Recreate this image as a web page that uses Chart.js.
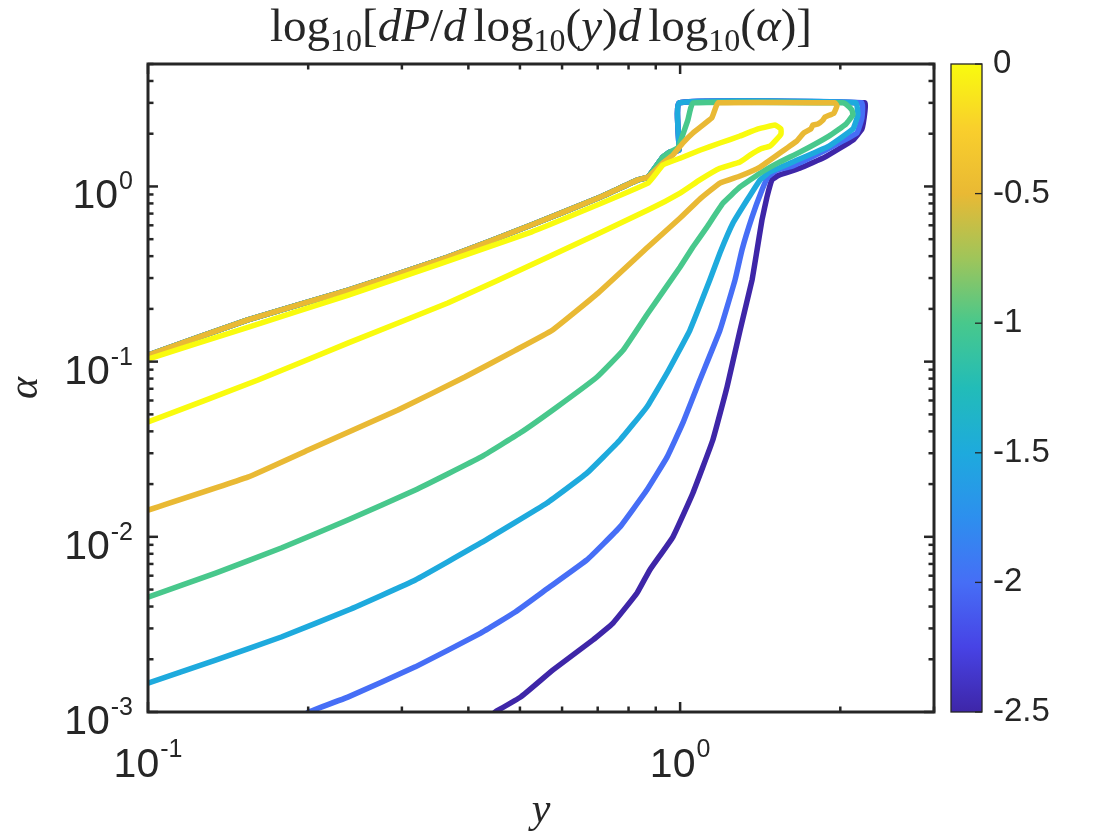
<!DOCTYPE html>
<html>
<head>
<meta charset="utf-8">
<script src="https://cdn.jsdelivr.net/npm/chart.js@4.4.1/dist/chart.umd.min.js"></script>
<style>
  html, body { margin: 0; padding: 0; background: #fff; }
</style>
</head>
<body>
<canvas id="contourChart" width="1120" height="840"></canvas>
<script>
// contour levels of log10[dP / dlog10(y) dlog10(alpha)]
const levels = [0, -0.5, -1, -1.5, -2, -2.5];
const cLim = [-2.5, 0];
const xRange = [0.1, 3];
const yRange = [0.001, 5];
const xTickExp = [-1, 0];
const yTickExp = [-3, -2, -1, 0];
const cbTicks = [0, -0.5, -1, -1.5, -2, -2.5];

// upper-left edge of the data region, shared by the outer levels (y, alpha)
const edgeY = [0.957, 0.928, 0.870, 0.833, 0.701, 0.525, 0.366, 0.238, 0.154, 0.1];
const edgeA = [1.57, 1.47, 1.13, 1.09, 0.859, 0.602, 0.395, 0.256, 0.173, 0.109];

// level 0
const c00y = [0.1, 0.161, 0.238, 0.366, 0.565, 0.870, 1.0, 1.089, 1.188, 1.296, 1.353, 1.419, 1.475, 1.514,
  1.547, 1.547, 1.508, 1.401, 1.296, 1.188, 1.089, 1.0, 0.928, 0.870, 0.525, 0.238, 0.154, 0.1];
const c00a = [0.0452, 0.0785, 0.128, 0.216, 0.395, 0.733, 0.917, 1.09, 1.27, 1.38, 1.51, 1.64, 1.70, 1.84,
  1.99, 2.13, 2.24, 2.13, 1.94, 1.77, 1.61, 1.45, 1.325, 1.045, 0.549, 0.240, 0.157, 0.1035];

// level -0.5
const c05y = [0.1, 0.154, 0.2, 0.295, 0.394, 0.490, 0.575, 0.701, 0.870, 1.0, 1.089, 1.188, 1.296, 1.413,
  1.540, 1.658, 1.708, 1.761, 1.776, 1.815, 1.855, 1.871, 1.945, 1.971, 1.954, 1.178, 1.162, 1.147, 1.057,
  1.012, 0.969, 0.928];
const c05a = [0.0142, 0.0219, 0.0313, 0.0529, 0.0817, 0.116, 0.151, 0.246, 0.451, 0.660, 0.847, 1.045, 1.147, 1.29,
  1.55, 1.82, 2.02, 2.13, 2.24, 2.27, 2.39, 2.49, 2.62, 2.88, 3.0, 3.0, 2.73, 2.46, 2.02,
  1.77, 1.51, 1.36];

// level -1
const c10y = [0.1, 0.134, 0.178, 0.238, 0.318, 0.422, 0.500, 0.587, 0.698, 0.781, 0.870, 1.0, 1.057, 1.123,
  1.204, 1.296, 1.413, 1.540, 1.679, 1.904, 2.049, 2.112, 2.103, 2.049, 2.022, 1.057, 1.034, 1.008, 0.99];
const c10a = [0.00453, 0.00621, 0.00863, 0.0125, 0.0185, 0.0285, 0.0391, 0.0551, 0.0817, 0.116, 0.189, 0.347, 0.451, 0.586,
  0.804, 0.993, 1.19, 1.38, 1.57, 1.94, 2.27, 2.56, 2.73, 2.95, 3.0, 3.0, 2.39, 1.91, 1.66];

// level -1.5
const c15y = [0.1, 0.134, 0.178, 0.238, 0.318, 0.422, 0.562, 0.668, 0.771, 0.866, 0.945, 1.043, 1.137, 1.188,
  1.257, 1.336, 1.413, 1.475, 1.629, 1.904, 2.112, 2.158, 2.140, 0.995, 0.995];
const c15a = [0.00146, 0.00198, 0.00268, 0.00382, 0.00567, 0.00922, 0.0156, 0.0231, 0.0357, 0.0551, 0.0861, 0.151, 0.292, 0.417,
  0.618, 0.836, 1.09, 1.21, 1.38, 1.70, 2.13, 2.56, 3.0, 3.0, 1.61];

// level -2
const c20y = [0.2, 0.238, 0.318, 0.422, 0.490, 0.565, 0.668, 0.771, 0.866, 0.945, 1.012, 1.089, 1.188, 1.268,
  1.307, 1.365, 1.425, 1.462, 1.520, 1.629, 1.847, 2.022, 2.149, 2.196, 2.196, 0.995, 0.995];
const c20a = [0.001, 0.00122, 0.00181, 0.00282, 0.00372, 0.00510, 0.00738, 0.0114, 0.0185, 0.0285, 0.0447, 0.0785, 0.151, 0.292,
  0.434, 0.668, 0.953, 1.13, 1.24, 1.31, 1.57, 1.82, 2.02, 2.46, 3.0, 3.0, 1.61];

// level -2.5
const c25y = [0.449, 0.502, 0.577, 0.686, 0.748, 0.830, 0.877, 0.969, 1.057, 1.152, 1.225, 1.296, 1.365, 1.395,
  1.425, 1.456, 1.488, 1.534, 1.679, 1.871, 2.112, 2.196, 2.225, 2.225, 0.995, 0.995];
const c25a = [0.001, 0.00122, 0.00174, 0.00258, 0.00322, 0.00478, 0.00647, 0.00997, 0.0178, 0.0357, 0.0716, 0.151, 0.292, 0.434,
  0.643, 0.869, 1.09, 1.16, 1.27, 1.47, 1.84, 2.13, 2.69, 3.0, 3.0, 1.61];

const parula = ['#3e26a8', '#4743e5', '#466ef6', '#2d8fee', '#1eaadd', '#22bcb8',
  '#48c88c', '#9fc55a', '#e9b934', '#f9cf2c', '#f9fb0e'];

const ink = '#262626';
const sans = '"Liberation Sans", Arial, sans-serif';
const serif = '"Liberation Serif", "Times New Roman", serif';

function hexRgb(h) {
  return [1, 3, 5].map(i => parseInt(h.slice(i, i + 2), 16));
}

function levelColor(v) {
  const t = (v - cLim[0]) / (cLim[1] - cLim[0]) * (parula.length - 1);
  const i = Math.min(Math.floor(t), parula.length - 2);
  const f = t - i;
  const a = hexRgb(parula[i]), b = hexRgb(parula[i + 1]);
  return 'rgb(' + a.map((c, k) => Math.round(c + (b[k] - c) * f)).join(',') + ')';
}

function toPoints(ys, as, edgeFrom) {
  const pts = ys.map((v, i) => ({ x: v, y: as[i] }));
  if (edgeFrom !== null) {
    for (let i = edgeFrom; i < edgeY.length; i++) pts.push({ x: edgeY[i], y: edgeA[i] });
  }
  return pts;
}

const paths = [
  { lev: levels[0], ys: c00y, as: c00a, edgeFrom: null },
  { lev: levels[1], ys: c05y, as: c05a, edgeFrom: 2 },
  { lev: levels[2], ys: c10y, as: c10a, edgeFrom: 0 },
  { lev: levels[3], ys: c15y, as: c15a, edgeFrom: 0 },
  { lev: levels[4], ys: c20y, as: c20a, edgeFrom: 0 },
  { lev: levels[5], ys: c25y, as: c25a, edgeFrom: 0 }
];

const datasets = paths.map(p => ({
  label: String(p.lev),
  data: toPoints(p.ys, p.as, p.edgeFrom),
  showLine: true,
  borderColor: levelColor(p.lev),
  borderWidth: 5.5,
  borderJoinStyle: 'round',
  borderCapStyle: 'round',
  pointRadius: 0,
  tension: 0.1
}));

function line(ctx, x1, y1, x2, y2) {
  ctx.beginPath();
  ctx.moveTo(x1, y1);
  ctx.lineTo(x2, y2);
  ctx.stroke();
}

function logTicks(min, max) {
  const out = [];
  for (let e = Math.floor(Math.log10(min)); e <= Math.ceil(Math.log10(max)); e++) {
    for (let k = 1; k <= 9; k++) {
      const v = k * Math.pow(10, e);
      if (v >= min * 0.999 && v <= max * 1.001) out.push({ v: v, major: k === 1 });
    }
  }
  return out;
}

function drawPow(ctx, e, px, py, side) {
  const base = '10', sup = String(e);
  ctx.font = '41px ' + sans;
  const wB = ctx.measureText(base).width;
  ctx.font = '25px ' + sans;
  const wS = ctx.measureText(sup).width;
  ctx.textAlign = 'left';
  ctx.textBaseline = 'alphabetic';
  let x0, yB, yS;
  if (side === 'left') {
    x0 = px - wS - wB - 1;
    yB = py + 22;
    yS = py + 3;
  } else {
    x0 = px - (wB + wS + 1) / 2;
    yB = py;
    yS = py - 20;
  }
  ctx.font = '41px ' + sans;
  ctx.fillText(base, x0, yB);
  ctx.font = '25px ' + sans;
  ctx.fillText(sup, x0 + wB + 1, yS);
}

function drawMath(ctx, parts, cx, baseline) {
  let w = 0;
  parts.forEach(p => {
    ctx.font = p.f;
    p.w = (p.t ? ctx.measureText(p.t).width : 0) + (p.sp || 0);
    w += p.w;
  });
  let xx = cx - w / 2;
  ctx.textAlign = 'left';
  ctx.textBaseline = 'alphabetic';
  parts.forEach(p => {
    ctx.font = p.f;
    if (p.t) ctx.fillText(p.t, xx, baseline + (p.dy || 0));
    xx += p.w;
  });
}

// keep the plot box where the reference has it
function fixBox(size, dim) {
  return s => {
    s[dim] = size;
    s.paddingTop = 0; s.paddingBottom = 0; s.paddingLeft = 0; s.paddingRight = 0;
  };
}

const matlabFrame = {
  id: 'matlabFrame',
  afterDraw(chart) {
    const { ctx, chartArea: a, scales } = chart;
    const xs = scales.x, ys = scales.y, cb = scales.cb;
    ctx.save();

    // colour bar
    const cbTop = cb.getPixelForValue(cLim[1]);
    const cbBot = cb.getPixelForValue(cLim[0]);
    const cbL = a.right + 17, cbW = 31;
    const g = ctx.createLinearGradient(0, cbBot, 0, cbTop);
    parula.forEach((c, i) => g.addColorStop(i / (parula.length - 1), c));
    ctx.fillStyle = g;
    ctx.fillRect(cbL, cbTop, cbW, cbBot - cbTop);
    ctx.strokeStyle = ink;
    ctx.lineWidth = 1.3;
    ctx.strokeRect(cbL, cbTop, cbW, cbBot - cbTop);
    cbTicks.forEach(v => {
      const py = cb.getPixelForValue(v);
      line(ctx, cbL + cbW - 7, py, cbL + cbW, py);
    });

    // inward ticks on all four sides
    ctx.lineWidth = 2.5;
    logTicks(xRange[0], xRange[1]).forEach(t => {
      const px = xs.getPixelForValue(t.v);
      const L = t.major ? 10 : 5.5;
      line(ctx, px, a.bottom, px, a.bottom - L);
      line(ctx, px, a.top, px, a.top + L);
    });
    logTicks(yRange[0], yRange[1]).forEach(t => {
      const py = ys.getPixelForValue(t.v);
      const L = t.major ? 10 : 5.5;
      line(ctx, a.left, py, a.left + L, py);
      line(ctx, a.right, py, a.right - L, py);
    });

    // axes box
    ctx.lineWidth = 3;
    ctx.strokeRect(a.left, a.top, a.right - a.left, a.bottom - a.top);

    // tick labels
    ctx.fillStyle = ink;
    xTickExp.forEach(e => drawPow(ctx, e, xs.getPixelForValue(Math.pow(10, e)), a.bottom + 65, 'bottom'));
    yTickExp.forEach(e => drawPow(ctx, e, a.left - 15, ys.getPixelForValue(Math.pow(10, e)), 'left'));

    // title
    const rm = '47px ' + serif, it = 'italic 47px ' + serif, sub = '32px ' + serif;
    const thin = { t: '', f: rm, sp: 7 };
    drawMath(ctx, [
      { t: 'log', f: rm }, { t: '10', f: sub, dy: 10 }, { t: '[', f: rm },
      { t: 'dP', f: it }, { t: '/', f: rm }, { t: 'd', f: it }, thin,
      { t: 'log', f: rm }, { t: '10', f: sub, dy: 10 }, { t: '(', f: rm }, { t: 'y', f: it }, { t: ')', f: rm },
      { t: 'd', f: it }, Object.assign({}, thin),
      { t: 'log', f: rm }, { t: '10', f: sub, dy: 10 }, { t: '(', f: rm }, { t: '\u03b1', f: it }, { t: ')', f: rm },
      { t: ']', f: rm }
    ], (a.left + a.right) / 2, 41);

    // axis labels
    ctx.font = 'italic 42px ' + serif;
    ctx.textAlign = 'center';
    ctx.textBaseline = 'alphabetic';
    ctx.fillText('y', (a.left + a.right) / 2, 822);
    ctx.save();
    ctx.translate(37, (a.top + a.bottom) / 2);
    ctx.rotate(-Math.PI / 2);
    ctx.fillText('\u03b1', 0, 0);
    ctx.restore();

    ctx.restore();
  }
};

new Chart('contourChart', {
  type: 'scatter',
  data: { datasets: datasets },
  options: {
    responsive: false,
    animation: false,
    events: [],
    layout: { padding: { top: 64, right: 0, bottom: 0, left: 0 } },
    plugins: { legend: { display: false }, tooltip: { enabled: false }, title: { display: false } },
    scales: {
      x: {
        type: 'logarithmic', position: 'bottom', min: xRange[0], max: xRange[1],
        grid: { display: false, drawTicks: false }, border: { display: false },
        ticks: { display: false },
        afterFit: fixBox(128, 'height')
      },
      y: {
        type: 'logarithmic', position: 'left', min: yRange[0], max: yRange[1],
        grid: { display: false, drawTicks: false }, border: { display: false },
        ticks: { display: false },
        afterFit: fixBox(148, 'width')
      },
      cb: {
        type: 'linear', axis: 'y', position: 'right', min: cLim[0], max: cLim[1],
        grid: { display: false, drawTicks: false }, border: { display: false },
        ticks: {
          stepSize: 0.5, autoSkip: false, padding: 59, color: ink,
          font: { family: sans, size: 33 },
          callback: v => String(v)
        },
        afterFit: fixBox(186, 'width')
      }
    }
  },
  plugins: [matlabFrame]
});
</script>
</body>
</html>
